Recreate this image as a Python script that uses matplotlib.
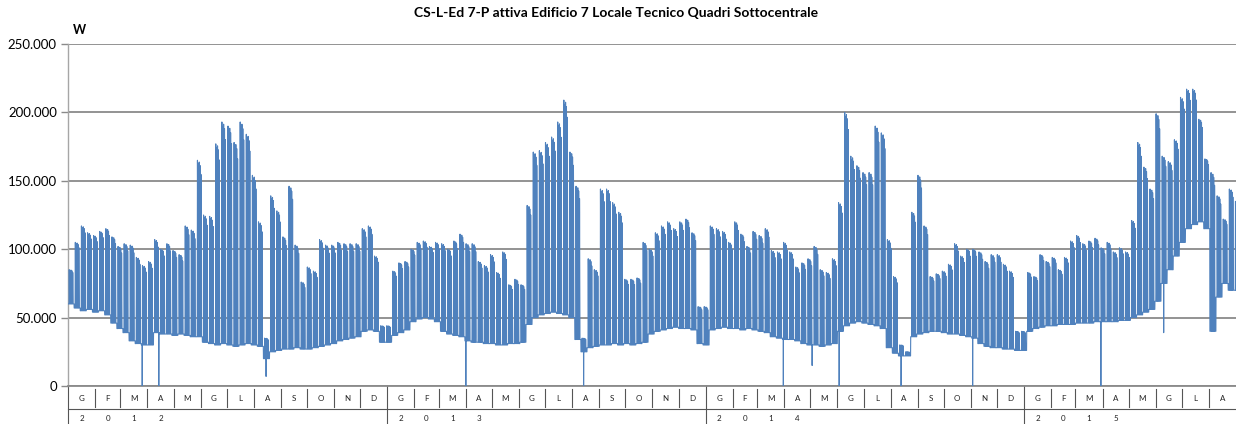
import numpy as np
import pandas as pd
import matplotlib
matplotlib.use("Agg")
import matplotlib.pyplot as plt

# ---------------- data ----------------
title = "CS-L-Ed 7-P attiva Edificio 7 Locale Tecnico Quadri Sottocentrale"
unit_label = "W"
start_date = "2012-01-01"
end_date = "2015-09-01"
month_labels = ["G", "F", "M", "A", "M", "G", "L", "A", "S", "O", "N", "D"]
years = ["2012", "2013", "2014", "2015"]
y_ticks = [0, 50000, 100000, 150000, 200000, 250000]
y_tick_labels = ["0", "50.000", "100.000", "150.000", "200.000", "250.000"]

# weekly working-day peaks (kW), one per week from 1 Jan 2012
weekly_peak_kw = [
    85, 105, 117, 112, 110, 113, 115, 109, 102, 104, 103, 94, 88, 91, 107, 100,
    104, 99, 96, 117, 114, 165, 125, 124, 177, 193, 190, 178, 193, 184, 154, 120,
    35, 139, 128, 109, 146, 103, 76, 87, 84, 107, 103, 103, 105, 104, 104, 104,
    115, 117, 95, 44, 44, 84, 90, 91, 100, 105, 106, 102, 105, 104, 100, 106,
    111, 104, 104, 91, 88, 96, 83, 98, 74, 78, 74, 132, 171, 172, 178, 182,
    193, 209, 171, 146, 35, 93, 85, 144, 144, 134, 127, 78, 78, 79, 105, 100,
    112, 117, 120, 115, 120, 122, 112, 58, 58, 117, 115, 113, 105, 120, 111, 102,
    113, 110, 115, 99, 98, 105, 98, 87, 90, 93, 102, 85, 83, 93, 134, 200,
    168, 161, 156, 156, 190, 185, 107, 80, 30, 25, 127, 154, 117, 80, 82, 84,
    89, 104, 95, 100, 100, 98, 91, 96, 96, 89, 84, 40, 40, 83, 80, 96,
    91, 94, 85, 94, 106, 110, 104, 106, 108, 101, 105, 98, 101, 98, 121, 178,
    160, 144, 199, 168, 164, 180, 211, 217, 217, 195, 166, 156, 139, 122, 144, 135,
]

# weekly night / weekend base level (kW)
weekly_base_kw = [
    60, 57, 55, 56, 54, 55, 52, 46, 42, 39, 33, 31, 30, 30, 39, 38,
    38, 37, 38, 37, 36, 36, 32, 31, 30, 31, 30, 29, 30, 31, 30, 29,
    20, 25, 26, 27, 27, 28, 27, 27, 28, 29, 30, 31, 33, 34, 35, 36,
    40, 41, 40, 32, 32, 37, 39, 41, 47, 49, 50, 49, 47, 40, 38, 37,
    36, 33, 32, 32, 31, 31, 30, 30, 31, 31, 32, 45, 50, 52, 53, 54,
    53, 52, 50, 34, 25, 28, 29, 30, 30, 31, 30, 31, 30, 31, 32, 38,
    40, 41, 42, 43, 42, 42, 41, 31, 30, 41, 42, 43, 42, 42, 41, 42,
    41, 40, 39, 36, 35, 34, 34, 33, 31, 30, 30, 29, 30, 31, 40, 44,
    46, 47, 46, 45, 44, 42, 28, 24, 22, 22, 36, 38, 39, 40, 40, 39,
    38, 38, 37, 36, 35, 31, 29, 28, 28, 27, 27, 26, 26, 40, 42, 43,
    44, 44, 45, 45, 45, 46, 46, 46, 47, 47, 47, 47, 48, 48, 50, 52,
    54, 56, 62, 75, 85, 95, 105, 115, 118, 120, 115, 40, 65, 75, 70, 70,
]

# isolated drops (day index from 1 Jan 2012, value kW)
outage_days = [85, 104, 227, 456, 591, 820, 853, 884, 955, 1037, 1184, 1256]
outage_kw = [0, 0, 7, 0, 0, 0, 15, 0, 0, 0, 0, 39]

# typical working-day load shape (fraction of peak above base, 2-hour slots)
day_profile = [0.0, 0.0, 0.05, 0.35, 0.8, 1.0, 0.9, 0.75, 0.45, 0.2, 0.05, 0.0]
# relative height of Monday..Friday peaks
weekday_factor = [1.0, 0.98, 0.99, 0.97, 0.92]

# ---------------- build series ----------------
days = pd.date_range(start_date, end_date, freq="D", inclusive="left")
n_days = len(days)
spd = len(day_profile)
n = n_days * spd
t = np.arange(n) / spd
day_idx = np.arange(n) // spd
slot = np.arange(n) % spd
peak = np.array(weekly_peak_kw, dtype=float) * 1000
base = np.array(weekly_base_kw, dtype=float) * 1000
week = np.minimum(day_idx // 7, len(peak) - 1)
weekday = days.weekday.values[day_idx]
prof = np.array(day_profile)[slot]
wf = np.array(weekday_factor + [0.0, 0.0])[weekday]
amp = np.clip(peak[week] - base[week], 0, None)
y = base[week] + amp * prof * wf
for d, v in zip(outage_days, outage_kw):
    y[d * spd + 1] = v * 1000

# ---------------- figure ----------------
W, H = 1236, 424
fig = plt.figure(figsize=(W / 100, H / 100), dpi=100)
ax = fig.add_axes([68 / W, 1 - 386 / H, 1 - 68 / W, 342 / H])
ax.plot(t, y, color="#4F81BD", lw=0.8, zorder=3)
ax.set_xlim(0, n_days)
ax.set_ylim(0, 250000)
ax.set_yticks(y_ticks)
ax.set_yticklabels(y_tick_labels, family="Lato", fontsize=9.5)
ax.yaxis.grid(True, color="#8a8a8a", lw=1.3)
ax.set_axisbelow(True)
for s in ["top", "right"]:
    ax.spines[s].set_visible(False)
ax.spines["left"].set_color("#a6a6a6")
ax.spines["left"].set_linewidth(1.0)
ax.spines["bottom"].set_color("#8a8a8a")
ax.spines["bottom"].set_linewidth(1.3)
ax.tick_params(axis="y", length=5, color="#8a8a8a", width=1.0, pad=3)
ax.tick_params(axis="x", bottom=False, labelbottom=False)

# two-level category axis
tr = ax.get_xaxis_transform()
month_starts = pd.date_range(start_date, end_date, freq="MS")
offs = [(m - days[0]).days for m in month_starts]
sep_col = "#555555"
for i, o in enumerate(offs):
    if i == 0 or month_starts[i].month == 1:
        ax.plot([o, o], [0, -0.111], transform=tr, color=sep_col, lw=0.8, clip_on=False)
    elif o < n_days:
        ax.plot([o, o], [-0.01, -0.062], transform=tr, color=sep_col, lw=0.8, clip_on=False)
ax.plot([0, n_days], [-0.066, -0.066], transform=tr, color=sep_col, lw=0.8, clip_on=False)
for i in range(len(offs) - 1):
    c = 0.5 * (offs[i] + offs[i + 1])
    ax.text(c, -0.038, month_labels[month_starts[i].month - 1], transform=tr,
            ha="center", va="center", fontsize=5.8, family="Lato", color="#222222")
for yi, yr in enumerate(years):
    for j, ch in enumerate(yr):
        mi = yi * 12 + j
        c = 0.5 * (offs[mi] + offs[mi + 1])
        ax.text(c, -0.094, ch, transform=tr, ha="center", va="center",
                fontsize=5.8, family="Lato", color="#222222")

fig.text(616 / W, 1 - 13 / H, title, ha="center", va="center", fontsize=10,
         fontweight="bold", family="Lato")
fig.text(79 / W, 1 - 30 / H, unit_label, ha="center", va="center", fontsize=9,
         fontweight="bold", family="Lato")

fig.savefig("out.png", dpi=100)
